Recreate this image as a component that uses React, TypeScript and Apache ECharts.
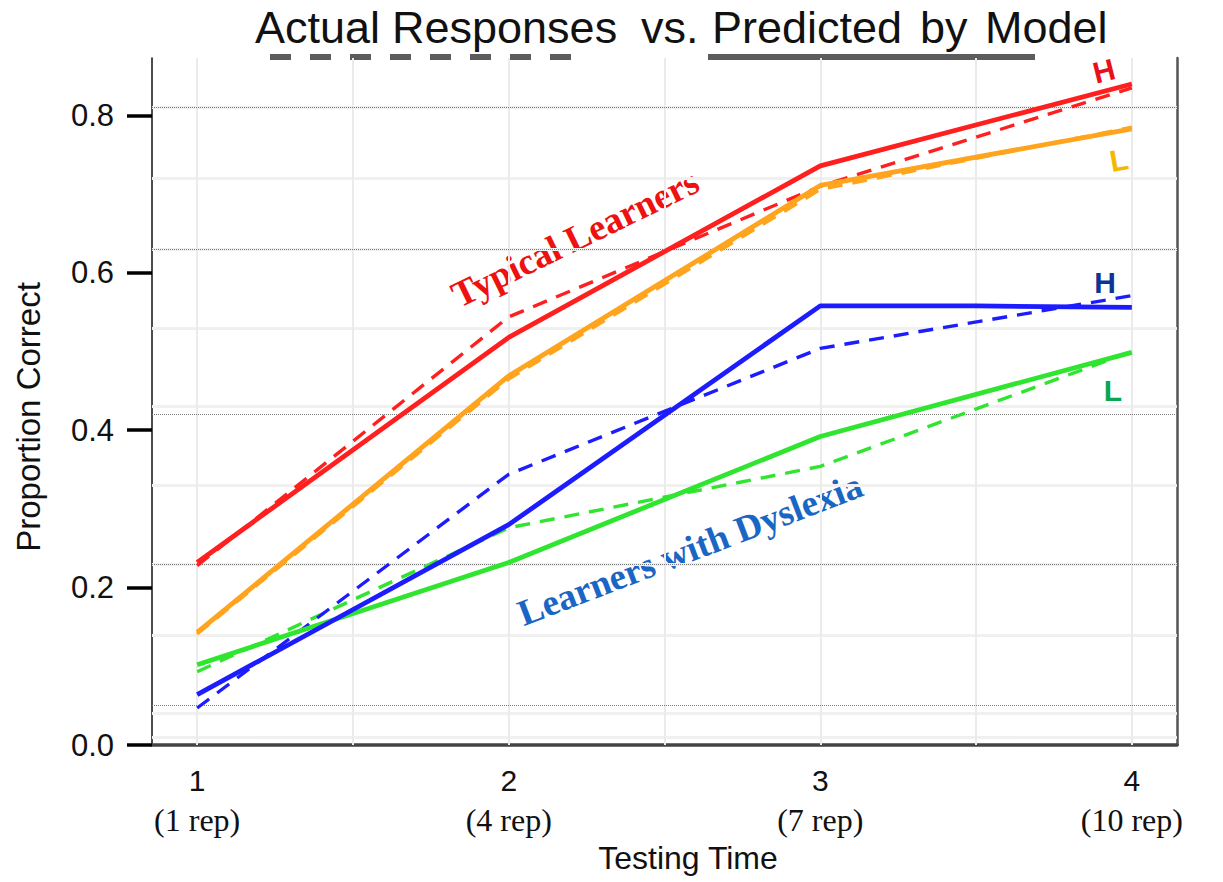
import React, { useEffect, useRef } from "react";
import * as echarts from "echarts";

// ---- data ----
const testingTimes = [1, 2, 3, 4];
const timeLabels = ["1", "2", "3", "4"];
const repLabels = ["(1 rep)", "(4 rep)", "(7 rep)", "(10 rep)"];
const yTickValues = [0, 0.2, 0.4, 0.6, 0.8];

// Typical learners, high (H) and low (L)
const typicalHighActual = [0.232, 0.518, 0.736, 0.84];
const typicalHighModel = [0.228, 0.544, 0.71, 0.835];
const typicalLowActual = [0.143, 0.469, 0.711, 0.783];
const typicalLowModel = [0.141, 0.465, 0.706, 0.785];

// Learners with dyslexia, high (H) and low (L)
const dyslexiaHighActualTimes = [1, 2, 3, 3.5, 4];
const dyslexiaHighActual = [0.064, 0.28, 0.558, 0.558, 0.556];
const dyslexiaHighModel = [0.047, 0.344, 0.504, 0.571];
const dyslexiaLowActual = [0.102, 0.232, 0.392, 0.499];
const dyslexiaLowModel = [0.093, 0.276, 0.354, 0.5];

// background guide lines
const dottedGuideValues = [0.047, 0.233, 0.419, 0.631, 0.811];
const faintGuideValues = [0.006, 0.041, 0.136, 0.233, 0.334, 0.431, 0.532, 0.628, 0.717, 0.814];
const verticalGuideValues = [1, 1.5, 2, 2.5, 3, 3.5, 4];

const SANS = "'Liberation Sans', Arial, sans-serif";
const SERIF = "'Liberation Serif', 'Times New Roman', serif";

const pairs = (xs: number[], ys: number[]) => xs.map((x, i) => [x, ys[i]]);

function lineSeries(name: string, xs: number[], ys: number[], color: string, dashed: boolean) {
  return {
    name,
    type: "line",
    data: pairs(xs, ys),
    showSymbol: false,
    symbol: "none",
    z: dashed ? 3 : 4,
    lineStyle: dashed
      ? { color, width: 3.4, type: [15, 10] }
      : { color, width: 4.8, type: "solid" },
    silent: true,
  };
}

export default function App() {
  const ref = useRef<HTMLDivElement | null>(null);
  useEffect(() => {
    document.body.style.margin = "0";
    if (!ref.current) return;
    const chart = echarts.init(ref.current, undefined, { renderer: "svg" });
    const deg = Math.PI / 180;
    const titleFont = `45px ${SANS}`;
    const centered = { align: "center", verticalAlign: "middle", textAlign: "center", textVerticalAlign: "middle" };
    const option: any = {
      animation: false,
      backgroundColor: "#ffffff",
      grid: { left: 152, right: 46, top: 58, bottom: 137, containLabel: false },
      xAxis: {
        type: "value",
        min: 0.855,
        max: 4.145,
        axisLine: { show: true, lineStyle: { color: "#444", width: 3.5 } },
        axisTick: {
          show: true,
          inside: true,
          length: 6,
          customValues: testingTimes,
          lineStyle: { color: "#444", width: 2 },
        },
        axisLabel: {
          show: true,
          customValues: testingTimes,
          margin: 15,
          formatter: (v: number) => {
            const i = testingTimes.indexOf(v);
            return `{n|${timeLabels[i]}}\n{r|${repLabels[i]}}`;
          },
          rich: {
            n: { fontFamily: SANS, fontSize: 30, lineHeight: 40, color: "#111" },
            r: { fontFamily: SERIF, fontSize: 32, lineHeight: 40, color: "#111" },
          },
        },
        splitLine: { show: false },
      },
      yAxis: [
        {
          type: "value",
          min: 0,
          max: 0.873,
          axisLine: { show: true, lineStyle: { color: "#111", width: 1.5 } },
          axisTick: {
            show: true,
            length: 25,
            customValues: yTickValues,
            lineStyle: { color: "#000", width: 3.5 },
          },
          axisLabel: {
            show: true,
            customValues: yTickValues,
            margin: 38,
            fontFamily: SANS,
            fontSize: 31,
            color: "#111",
            formatter: (v: number) => v.toFixed(1),
          },
          splitLine: { show: false },
        },
        {
          type: "value",
          position: "right",
          min: 0,
          max: 0.873,
          axisLine: { show: true, lineStyle: { color: "#555", width: 2.5 } },
          axisTick: { show: false },
          axisLabel: { show: false },
          splitLine: { show: false },
        },
      ],
      series: [
        {
          name: "guides",
          type: "line",
          data: [],
          z: 1,
          silent: true,
          markLine: {
            silent: true,
            symbol: ["none", "none"],
            label: { show: false },
            z: 1,
            data: [
              ...faintGuideValues.map((v) => ({
                yAxis: v,
                lineStyle: { color: "#f0f0f0", width: 3, type: "solid" },
              })),
              ...verticalGuideValues.map((v) => ({
                xAxis: v,
                lineStyle: { color: "#ebebeb", width: 2, type: "solid" },
              })),
              ...dottedGuideValues.map((v) => ({
                yAxis: v,
                lineStyle: { color: "#7a7a7a", width: 1, type: "dotted" },
              })),
            ],
          },
        },
        lineSeries("Typical L model", testingTimes, typicalLowModel, "#ffa41c", true),
        lineSeries("Typical H model", testingTimes, typicalHighModel, "#ff1f1f", true),
        lineSeries("Dyslexia L model", testingTimes, dyslexiaLowModel, "#2fe52f", true),
        lineSeries("Dyslexia H model", testingTimes, dyslexiaHighModel, "#1c1cff", true),
        lineSeries("Typical L actual", testingTimes, typicalLowActual, "#ffa41c", false),
        lineSeries("Typical H actual", testingTimes, typicalHighActual, "#ff1f1f", false),
        lineSeries("Dyslexia L actual", testingTimes, dyslexiaLowActual, "#2fe52f", false),
        lineSeries("Dyslexia H actual", dyslexiaHighActualTimes, dyslexiaHighActual, "#1c1cff", false),
      ],
      graphic: [
        // title words
        ...[
          ["Actual", 255],
          ["Responses", 392],
          ["vs.", 641],
          ["Predicted", 712],
          ["by", 920],
          ["Model", 985],
        ].map(([t, x]) => ({
          type: "text",
          x: x as number,
          y: 27,
          style: {
            text: t as string,
            font: titleFont,
            fill: "#111",
            align: "left",
            verticalAlign: "middle",
            textAlign: "left",
            textVerticalAlign: "middle",
          },
        })),
        {
          type: "line",
          shape: { x1: 270, y1: 57, x2: 572, y2: 57 },
          style: { stroke: "#5c5c5c", lineWidth: 6, lineDash: [21, 19] },
        },
        {
          type: "line",
          shape: { x1: 708, y1: 57, x2: 1035, y2: 57 },
          style: { stroke: "#5c5c5c", lineWidth: 6 },
        },
        // axis titles
        {
          type: "text",
          x: 28,
          y: 417,
          rotation: 90 * deg,
          style: { text: "Proportion Correct", font: `33px ${SANS}`, fill: "#111", ...centered },
        },
        {
          type: "text",
          x: 688,
          y: 858,
          style: { text: "Testing Time", font: `32px ${SANS}`, fill: "#111", ...centered },
        },
        // group labels
        {
          type: "text",
          x: 575,
          y: 238,
          rotation: 26 * deg,
          style: { text: "Typical Learners", font: `bold 37px ${SERIF}`, fill: "#ee1111", ...centered },
        },
        {
          type: "text",
          x: 690,
          y: 549,
          rotation: 21 * deg,
          style: { text: "Learners with Dyslexia", font: `bold 37px ${SERIF}`, fill: "#1a66c4", ...centered },
        },
        // H / L markers
        ...[
          ["H", 1104, 71, "#e8101a", 14],
          ["L", 1119, 160, "#f5b800", 10],
          ["H", 1105, 282, "#0a3596", 0],
          ["L", 1113, 390, "#07a650", 0],
        ].map(([t, x, y, c, r]) => ({
          type: "text",
          x: x as number,
          y: y as number,
          rotation: (r as number) * deg,
          style: { text: t as string, font: `bold 30px ${SANS}`, fill: c as string, ...centered },
        })),
      ],
    };
    chart.setOption(option);
    return () => {
      chart.dispose();
    };
  }, []);
  return <div ref={ref} style={{ width: 1223, height: 882 }} />;
}
